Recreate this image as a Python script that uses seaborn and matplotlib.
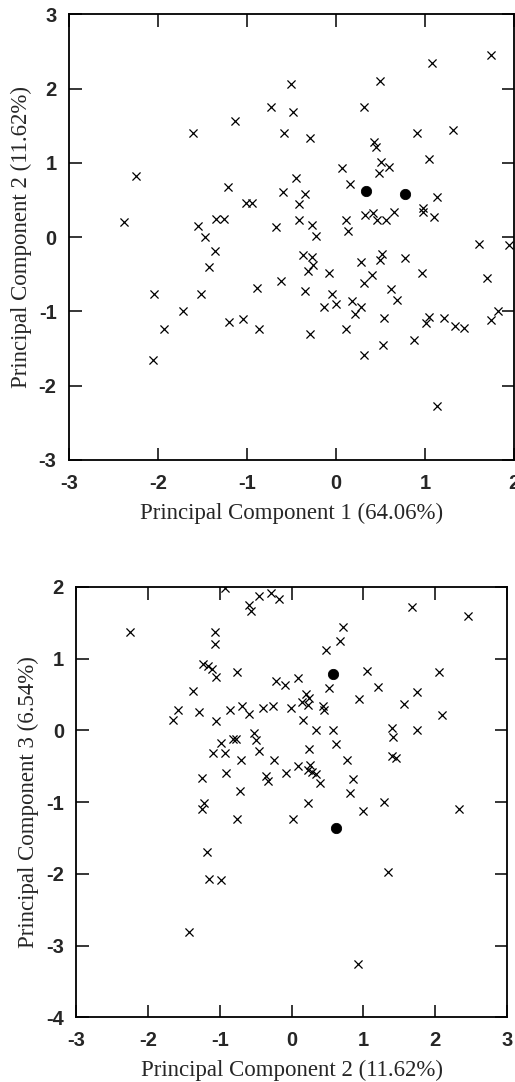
# PCA score plots: PC1 vs PC2 (top) and PC2 vs PC3 (bottom)
import numpy as np
import pandas as pd
import seaborn as sns
import matplotlib.pyplot as plt

# top panel, crosses (PC1, PC2)
pc1_x = [-2.38, -2.25, -1.61, -1.14, -1.21, -1.01, -0.94, -1.35, -1.26, -1.55,
         -1.47, -1.36, -1.43, -2.05, -1.52, -1.72, -1.93, -2.06, -1.20, -1.04,
         -0.89, -0.87, 1.74, 1.08, 0.49, -0.51, -0.73, -0.48, 0.32, -0.58,
         -0.29, 0.91, 1.32, 0.43, 0.45, 1.05, 0.51, 0.60, 0.48, 0.07,
         -0.45, 0.16, -0.59, -0.35, -0.42, 1.14, 0.98, 0.98, 1.10, -0.67,
         -0.42, -0.27, -0.23, 0.11, 0.14, 0.33, 0.42, 0.46, 0.56, 0.65,
         1.61, 1.94, -0.37, -0.27, -0.26, -0.31, -0.08, -0.62, -0.35, -0.04,
         0.00, -0.14, 0.28, 0.49, 0.52, 0.77, 0.97, 0.40, 0.32, 0.62,
         0.68, 0.18, 0.28, 0.21, 0.11, -0.29, 0.54, 0.31, 0.53, 0.88,
         1.01, 1.04, 1.21, 1.34, 1.44, 1.14, 1.70, 1.74, 1.82]
pc2_y = [0.20, 0.82, 1.41, 1.57, 0.67, 0.46, 0.46, 0.25, 0.25, 0.15,
         0.00, -0.18, -0.40, -0.77, -0.76, -1.00, -1.24, -1.65, -1.14, -1.10,
         -0.69, -1.23, 2.45, 2.34, 2.11, 2.06, 1.75, 1.69, 1.76, 1.41,
         1.34, 1.41, 1.45, 1.28, 1.22, 1.05, 1.01, 0.95, 0.86, 0.93,
         0.80, 0.72, 0.61, 0.58, 0.45, 0.54, 0.40, 0.34, 0.27, 0.14,
         0.23, 0.16, 0.02, 0.23, 0.09, 0.30, 0.33, 0.23, 0.23, 0.34,
         -0.09, -0.10, -0.24, -0.26, -0.38, -0.45, -0.48, -0.59, -0.72, -0.77,
         -0.90, -0.94, -0.34, -0.30, -0.23, -0.28, -0.48, -0.51, -0.61, -0.70,
         -0.84, -0.86, -0.94, -1.04, -1.24, -1.31, -1.09, -1.59, -1.45, -1.39,
         -1.16, -1.07, -1.09, -1.20, -1.22, -2.27, -0.55, -1.11, -1.00]
# top panel, filled dots
dot1_x = [0.34, 0.77]
dot1_y = [0.62, 0.58]

# bottom panel, crosses (PC2, PC3)
pc2_x = [-2.26, -0.93, -1.07, -1.07, -1.24, -1.16, -1.11, -1.05, -0.76, -1.38,
         -1.65, -1.59, -1.29, -1.05, -0.86, -0.69, -0.60, -0.60, -0.56, -0.99,
         -0.93, -1.09, -0.81, -0.78, -0.52, -0.49, -0.71, -0.91, -1.25, -0.46,
         -0.28, -0.17, 1.68, 2.46, 0.72, 0.68, 0.48, 1.05, 2.06, 1.21,
         1.75, 0.52, 0.94, 1.57, 2.10, -0.22, -0.09, 0.09, 0.20, 0.25,
         0.14, 0.23, 0.44, 0.45, -0.40, -0.26, -0.01, 0.16, 0.34, 0.58,
         0.62, -0.46, 0.25, -0.24, 0.78, 1.40, 1.41, 1.75, 1.40, 1.45,
         0.09, 0.26, 0.23, 0.29, 0.34, -0.08, -0.36, -0.33, 0.86, 0.40,
         -0.72, -1.22, -1.25, -0.76, -1.18, -1.15, -0.99, -1.43, 0.82, 0.23,
         1.29, 1.00, 0.02, 2.34, 1.34, 0.92]
pc3_y = [1.37, 1.99, 1.37, 1.20, 0.93, 0.90, 0.85, 0.75, 0.81, 0.55,
         0.15, 0.28, 0.25, 0.13, 0.29, 0.34, 0.23, 1.75, 1.66, -0.18,
         -0.32, -0.32, -0.12, -0.12, -0.03, -0.13, -0.41, -0.59, -0.66, 1.88,
         1.92, 1.83, 1.72, 1.59, 1.44, 1.24, 1.12, 0.83, 0.81, 0.61,
         0.54, 0.59, 0.44, 0.37, 0.21, 0.69, 0.64, 0.73, 0.51, 0.45,
         0.40, 0.36, 0.34, 0.28, 0.31, 0.34, 0.31, 0.15, 0.00, 0.00,
         -0.19, -0.28, -0.26, -0.41, -0.41, 0.03, -0.09, 0.00, -0.36, -0.38,
         -0.49, -0.48, -0.55, -0.58, -0.61, -0.59, -0.64, -0.70, -0.68, -0.73,
         -0.84, -1.01, -1.10, -1.23, -1.70, -2.07, -2.08, -2.81, -0.87, -1.01,
         -1.00, -1.12, -1.24, -1.09, -1.98, -3.26]
dot2_x = [0.58, 0.62]
dot2_y = [0.78, -1.36]

sns.set_style("ticks")
plt.rcParams["font.family"] = ["Liberation Serif", "DejaVu Serif"]
plt.rcParams["axes.unicode_minus"] = False

fig = plt.figure(figsize=(5.15, 10.82), dpi=100)
ax1 = fig.add_axes([0.134, 0.5749, 0.864, 0.4117])
ax2 = fig.add_axes([0.1485, 0.0598, 0.8353, 0.3977])


def draw(ax, cx, cy, dx, dy, xlim, ylim, xlabel, ylabel):
    sns.scatterplot(x=cx, y=cy, marker="x", color="black", s=34,
                    linewidth=0.9, ax=ax)
    sns.scatterplot(x=dx, y=dy, marker="o", color="black", s=55,
                    edgecolor="black", ax=ax)
    ax.set_xlim(*xlim)
    ax.set_ylim(*ylim)
    ax.set_xticks(np.arange(xlim[0], xlim[1] + 1))
    ax.set_yticks(np.arange(ylim[0], ylim[1] + 1))
    ax.tick_params(direction="in", length=9, width=1.1, top=True, right=True,
                   color="black")
    ax.tick_params(axis="x", pad=10)
    ax.tick_params(axis="y", pad=9)
    for lab in ax.get_xticklabels() + ax.get_yticklabels():
        lab.set_family("Liberation Sans")
        lab.set_fontweight("bold")
        lab.set_fontsize(14.5)
    for sp in ax.spines.values():
        sp.set_visible(True)
        sp.set_linewidth(1.3)
        sp.set_color("black")
    ax.set_xlabel(xlabel, fontsize=16.5, labelpad=7)
    ax.set_ylabel(ylabel, fontsize=16.5, labelpad=5)


draw(ax1, pc1_x, pc2_y, dot1_x, dot1_y, (-3, 2), (-3, 3),
     "Principal Component 1 (64.06%)", "Principal Component 2 (11.62%)")
draw(ax2, pc2_x, pc3_y, dot2_x, dot2_y, (-3, 3), (-4, 2),
     "Principal Component 2 (11.62%)", "Principal Component 3 (6.54%)")

fig.savefig("out.png", dpi=100)
